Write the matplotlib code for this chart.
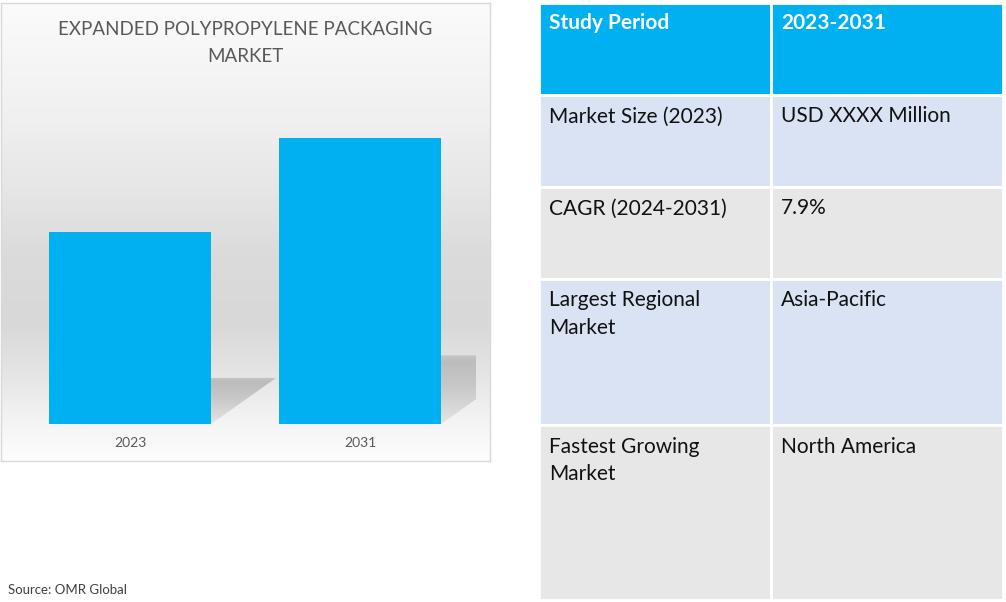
import numpy as np
import matplotlib
matplotlib.use('Agg')
import matplotlib.pyplot as plt
from matplotlib.colors import LinearSegmentedColormap
from matplotlib.patches import Polygon, Rectangle

plt.rcParams['font.family'] = ['Lato', 'DejaVu Sans']

# data
years = ["2023", "2031"]
market_values = [100, 149]          # relative size, no scale on the original
chart_title = "EXPANDED POLYPROPYLENE PACKAGING\nMARKET"

header = ["Study Period", "2023-2031"]
row_labels = ["Market Size (2023)", "CAGR (2024-2031)", "Largest Regional\nMarket", "Fastest Growing\nMarket"]
row_values = ["USD XXXX Million", "7.9%", "Asia-Pacific", "North America"]
source = "Source: OMR Global"

BLUE = "#00B0F0"
ROW_COLORS = ["#DAE3F3", "#E7E7E7", "#DAE3F3", "#E7E7E7"]

W, H = 1006, 602
fig = plt.figure(figsize=(W / 100, H / 100), dpi=100)
fig.patch.set_facecolor("white")

# --- table + source (pixel-like coordinates) ---
tab = fig.add_axes([0, 0, 1, 1])
tab.set_xlim(0, W)
tab.set_ylim(H, 0)
tab.axis("off")

col_edges = [539, 771, 1003]
row_edges = [3, 94.5, 186.5, 278.5, 425, 600]
fills = [BLUE] + ROW_COLORS
texts = [header] + [[a, b] for a, b in zip(row_labels, row_values)]
for r in range(len(fills)):
    y0, y1 = row_edges[r], row_edges[r + 1]
    for c in range(2):
        x0, x1 = col_edges[c], col_edges[c + 1]
        tab.add_patch(Rectangle((x0, y0), x1 - x0, y1 - y0, facecolor=fills[r],
                                edgecolor="white", linewidth=2))
        if r == 0:
            tab.text(x0 + 10, y0 + 10, texts[r][c], ha="left", va="top", fontsize=15,
                     fontweight="bold", color="white")
        else:
            tab.text(x0 + 10, y0 + 12, texts[r][c], ha="left", va="top", fontsize=15,
                     color="#111111", linespacing=1.45)

tab.text(8, 590, source, ha="left", va="center", fontsize=9.5, color="#404040")

# --- bar chart panel ---
px_per_unit = 192 / market_values[0]
ax = fig.add_axes([1 / W, (H - 461) / H, 489 / W, 458 / H])
xlim = ((1 - 130) / 230, (490 - 130) / 230)
ylim = (-37 / px_per_unit, 421 / px_per_unit)
for s in ax.spines.values():
    s.set_color("#D9D9D9")
    s.set_linewidth(1)
ax.set_xticks([])
ax.set_yticks([])

# background gradient (light top, grey band mid, white bottom)
stops = [(0.0, "#fdfdfd"), (0.03, "#fafafa"), (0.09, "#f3f3f3"), (0.18, "#e6e6e6"),
         (0.30, "#d8d8d8"), (0.45, "#dbdbdb"), (0.58, "#e5e5e5"), (0.75, "#f0f0f0"),
         (1.0, "#fbfbfb")]
bg = LinearSegmentedColormap.from_list("bg", stops)
grad = np.linspace(0, 1, 256).reshape(-1, 1)
ax.imshow(grad, cmap=bg, aspect="auto", origin="lower", extent=[0, 1, 0, 1],
          transform=ax.transAxes, zorder=0)

x = np.arange(len(years))
width = 162 / 230
# cast shadows behind the bars, cut off at the plot-area edge
x_clip = (476 - 130) / 230
sh_cmap = LinearSegmentedColormap.from_list("sh", [(0, "#e4e4e4"), (0.55, "#c8c8c8"),
                                                   (0.9, "#bcbcbc"), (1, "#c6c6c6")])
for xi, v in zip(x, market_values):
    sh = 0.24 * v
    dx = 0.0118 * sh
    xl, xr = xi - width / 2, xi + width / 2
    poly = Polygon([(xl, 0), (xr, 0), (xr + dx, sh), (xl + dx, sh)], closed=True,
                   transform=ax.transData, facecolor="none", edgecolor="none")
    ax.add_patch(poly)
    im = ax.imshow(grad, cmap=sh_cmap, aspect="auto", origin="lower",
                   extent=[xl, min(xr + dx, x_clip), 0, sh], zorder=1)
    im.set_clip_path(poly)

ax.bar(x, market_values, width=width, color=BLUE, zorder=2)
ax.set_xlim(*xlim)
ax.set_ylim(*ylim)

for xi, lab in zip(x, years):
    ax.text(xi, -19 / px_per_unit, lab, ha="center", va="center", fontsize=10, color="#595959")

ax.text(0.5, 1 - 40 / 458, chart_title, transform=ax.transAxes, ha="center", va="center",
        fontsize=13.5, color="#595959", linespacing=1.65)

fig.savefig("out.png", dpi=100)
